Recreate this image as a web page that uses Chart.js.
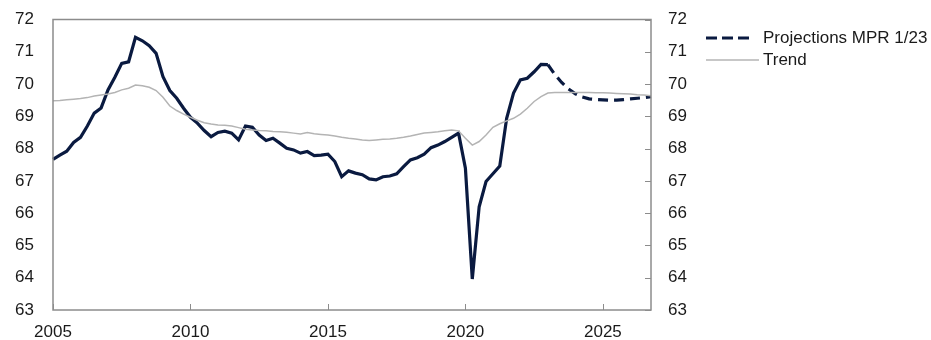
<!DOCTYPE html>
<html>
<head>
<meta charset="utf-8">
<script src="https://cdn.jsdelivr.net/npm/chart.js@4"></script>
<style>
  body { margin: 0; background: #fff; }
  #wrap { position: relative; width: 931px; height: 340px; }
  .leg { position: absolute; left: 706px; font: 17px "Liberation Sans", Arial, sans-serif; color: #1a1a1a; }
  .leg svg { position: absolute; left: 0; top: 0; }
  .leg span { position: absolute; left: 57px; top: -10px; white-space: nowrap; }
</style>
</head>
<body>
<div id="wrap">
  <canvas id="c" width="931" height="340"></canvas>
  <div class="leg" style="top:38px">
    <svg width="52" height="6" style="top:-3px"><line x1="0" y1="3" x2="48" y2="3" stroke="#0a1a40" stroke-width="3" stroke-dasharray="11,5"/></svg>
    <span>Projections MPR 1/23</span>
  </div>
  <div class="leg" style="top:60px">
    <svg width="54" height="4" style="top:-2px"><line x1="0" y1="2" x2="53" y2="2" stroke="#b4b4b4" stroke-width="1.5"/></svg>
    <span>Trend</span>
  </div>
</div>
<script>
// quarters 2005Q1 .. 2026Q4
var quarters = []
for (var y = 2005; y <= 2026; y++) {
    for (var q = 1; q <= 4; q++) quarters.push(y + "Q" + q)
}
var tickYears = ["2005", "2010", "2015", "2020", "2025"]

// actual, 2005Q1 - 2023Q1
var actual = [
    67.67, 67.8, 67.92, 68.19,
    68.35, 68.7, 69.1, 69.26,
    69.82, 70.21, 70.64, 70.69,
    71.45, 71.34, 71.19, 70.95,
    70.23, 69.8, 69.56, 69.25,
    68.97, 68.79, 68.56, 68.37,
    68.5, 68.54, 68.48, 68.27,
    68.7, 68.66, 68.42, 68.25,
    68.32, 68.17, 68.01, 67.96,
    67.86, 67.91, 67.78, 67.8,
    67.83, 67.6, 67.13, 67.31,
    67.24, 67.19, 67.06, 67.03,
    67.13, 67.15, 67.22, 67.44,
    67.65, 67.72, 67.83, 68.03,
    68.11, 68.22, 68.35, 68.48,
    67.39, 63.96, 66.2, 66.98,
    67.22, 67.46, 68.94, 69.72,
    70.13, 70.18, 70.38, 70.61,
    70.6
]
// projections MPR 1/23, 2023Q1 - 2026Q4
var projection = [
    70.6, 70.3, 70.05, 69.85,
    69.7, 69.6, 69.54, 69.52,
    69.51, 69.5, 69.5, 69.52,
    69.54, 69.56, 69.58, 69.61
]
// trend, 2005Q1 - 2026Q4
var trend = [
    69.48, 69.49, 69.51, 69.53,
    69.55, 69.58, 69.63, 69.66,
    69.69, 69.74, 69.82, 69.87,
    69.97, 69.95, 69.9, 69.8,
    69.59, 69.32, 69.18, 69.07,
    68.97, 68.88, 68.8, 68.76,
    68.73, 68.72, 68.7, 68.65,
    68.6, 68.58, 68.56, 68.55,
    68.53, 68.52, 68.51, 68.48,
    68.45, 68.5, 68.46, 68.44,
    68.42, 68.39, 68.35, 68.32,
    68.3, 68.27, 68.25, 68.27,
    68.29, 68.3, 68.32, 68.35,
    68.39, 68.44, 68.48, 68.5,
    68.52, 68.55, 68.58, 68.55,
    68.32, 68.11, 68.22, 68.42,
    68.66, 68.77, 68.86, 68.94,
    69.07, 69.25, 69.46, 69.61,
    69.72, 69.74, 69.74, 69.74,
    69.74, 69.74, 69.74, 69.73,
    69.73, 69.72, 69.71, 69.7,
    69.69, 69.67, 69.66, 69.64
]

var navy = "#0a1a40"
var frameCol = "#8c8c8c"
var font = { family: '"Liberation Sans", Arial, sans-serif', size: 17 }

var projData = quarters.map(function (q, i) {
    var k = i - (actual.length - 1)
    return k >= 0 ? projection[k] : null
})

// frame and inward tick marks
var frame = {
    id: "frame",
    afterDatasetsDraw: function (chart) {
        var a = chart.chartArea, ctx = chart.ctx
        ctx.save()
        ctx.strokeStyle = frameCol
        ctx.lineWidth = 1.5
        ctx.strokeRect(a.left, a.top, a.right - a.left, a.bottom - a.top)
        ctx.lineWidth = 1
        var xs = chart.scales.x
        xs.ticks.forEach(function (t) {
            var px = Math.round(xs.getPixelForValue(t.value)) + 0.5
            ctx.beginPath(); ctx.moveTo(px, a.bottom); ctx.lineTo(px, a.bottom - 6); ctx.stroke()
        })
        var ys = chart.scales.y2
        ys.ticks.forEach(function (t) {
            var py = Math.round(ys.getPixelForValue(t.value)) + 0.5
            ctx.beginPath(); ctx.moveTo(a.right, py); ctx.lineTo(a.right - 6, py); ctx.stroke()
        })
        ctx.restore()
    }
}

function yAxis(pos, pad, w) {
    return {
        position: pos, min: 63, max: 72,
        grid: { display: false, drawTicks: false }, border: { display: false },
        ticks: { stepSize: 1, font: font, color: "#1a1a1a", padding: pad },
        afterFit: function (s) {
            s.width = w
            s.paddingTop = 10
            s.paddingBottom = 10
        }
    }
}

new Chart(document.getElementById("c"), {
    type: "line",
    data: {
        labels: quarters,
        datasets: [
            { label: "Trend", data: trend, borderColor: "#b4b4b4", borderWidth: 1.5, pointRadius: 0, tension: 0 },
            { label: "Projections MPR 1/23", data: projData, borderColor: navy, borderWidth: 3.2, borderDash: [10, 6], pointRadius: 0, tension: 0 },
            { label: "Actual", data: actual, borderColor: navy, borderWidth: 3.2, pointRadius: 0, tension: 0 }
        ]
    },
    options: {
        responsive: false,
        animation: false,
        devicePixelRatio: 1,
        layout: { padding: { top: 19.5, right: 220, left: 0, bottom: 0 } },
        plugins: { legend: { display: false }, tooltip: { enabled: false } },
        scales: {
            x: {
                offset: false,
                grid: { display: false, drawTicks: false }, border: { display: false },
                afterBuildTicks: function (s) {
                    s.ticks = s.ticks.filter(function (t) {
                        var l = quarters[t.value]
                        return l.slice(4) == "Q1" && tickYears.indexOf(l.slice(0, 4)) >= 0
                    })
                },
                ticks: {
                    autoSkip: false, maxRotation: 0, font: font, color: "#1a1a1a", padding: 12,
                    callback: function (v) { return quarters[v].slice(0, 4) }
                },
                afterFit: function (s) { s.height = 30 }
            },
            y: yAxis("left", 19, 53),
            y2: yAxis("right", 17, 60)
        }
    },
    plugins: [frame]
})
</script>
</body>
</html>
